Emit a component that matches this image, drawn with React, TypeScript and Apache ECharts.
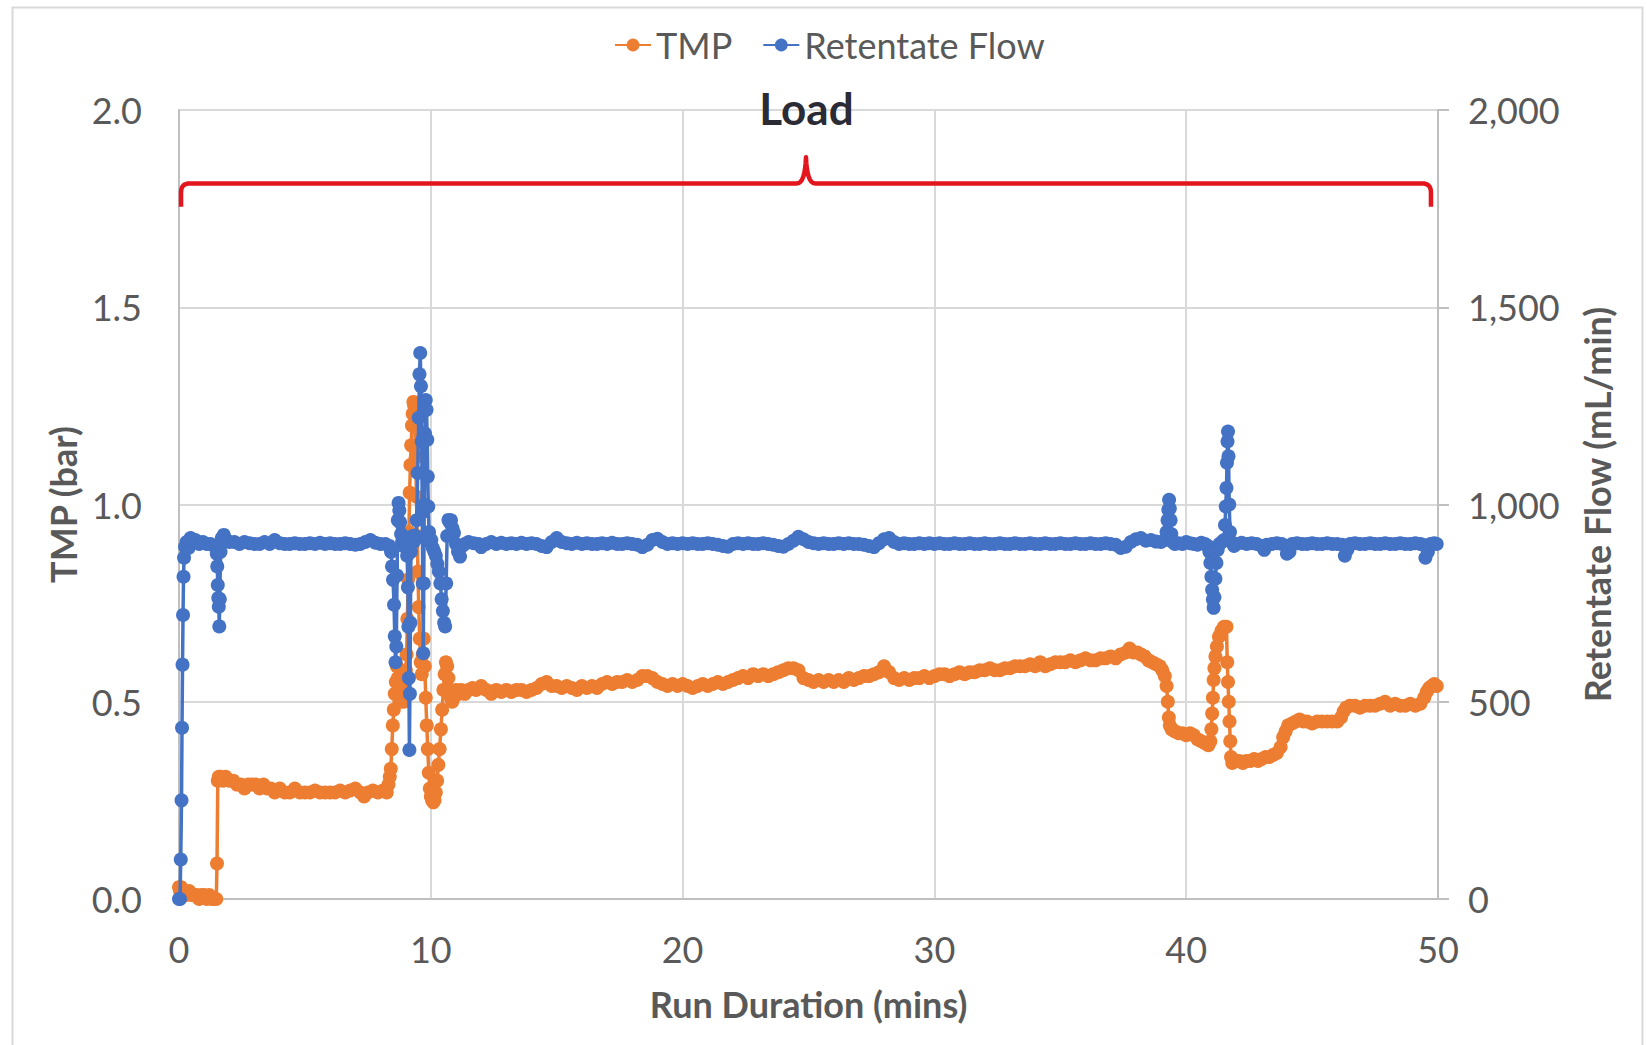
import React, { useEffect, useRef } from 'react';
import * as echarts from 'echarts';

// [minutes, TMP (bar)]
const tmpPoints: number[][] = [
  [0, 0.03], [0.04, 0.02], [0.08, 0.03], [0.12, 0.02], [0.2, 0.02], [0.3, 0.01], [0.4, 0.02], [0.5, 0.01], [0.6, 0.01], [0.7, 0.01],
  [0.8, 0.0], [0.9, 0.01], [1.0, 0.01], [1.1, 0.0], [1.2, 0.01], [1.3, 0.0], [1.4, 0.0], [1.48, 0.0],
  [1.51, 0.09], [1.54, 0.3], [1.58, 0.31], [1.65, 0.31], [1.75, 0.3], [1.85, 0.31], [2.0, 0.3], [2.15, 0.3], [2.3, 0.29], [2.45, 0.29],
  [2.6, 0.28], [2.75, 0.29], [2.9, 0.29], [3.05, 0.29], [3.2, 0.28], [3.35, 0.29], [3.5, 0.28], [3.65, 0.28], [3.8, 0.27], [4.0, 0.28],
  [4.2, 0.27], [4.4, 0.27], [4.6, 0.28], [4.8, 0.27], [5.0, 0.27], [5.2, 0.27], [5.4, 0.275], [5.6, 0.27], [5.8, 0.27], [6.0, 0.27],
  [6.2, 0.27], [6.4, 0.275], [6.6, 0.27], [6.8, 0.275], [7.0, 0.28], [7.2, 0.27], [7.35, 0.26], [7.5, 0.27], [7.7, 0.275], [7.9, 0.27],
  [8.1, 0.275], [8.25, 0.27],
  [8.32, 0.29], [8.37, 0.31], [8.41, 0.33], [8.45, 0.38], [8.49, 0.44], [8.53, 0.48], [8.57, 0.52], [8.61, 0.55], [8.65, 0.59],
  [8.69, 0.56], [8.73, 0.53], [8.77, 0.5], [8.81, 0.52], [8.85, 0.55], [8.89, 0.53], [8.93, 0.5], [8.97, 0.53], [9.01, 0.58],
  [9.04, 0.62], [9.07, 0.71], [9.1, 0.81], [9.13, 0.93], [9.16, 1.03], [9.19, 1.1], [9.22, 1.15], [9.25, 1.2], [9.28, 1.23],
  [9.31, 1.26], [9.34, 1.25], [9.37, 1.21], [9.4, 1.12], [9.43, 1.02], [9.46, 0.92], [9.49, 0.83], [9.52, 0.74], [9.56, 0.66],
  [9.6, 0.6], [9.64, 0.57], [9.68, 0.62], [9.72, 0.66], [9.76, 0.59], [9.8, 0.51], [9.84, 0.44], [9.88, 0.38], [9.92, 0.32],
  [9.96, 0.28], [10.0, 0.26], [10.05, 0.25], [10.1, 0.245], [10.15, 0.25], [10.2, 0.27], [10.25, 0.3], [10.3, 0.34], [10.35, 0.38],
  [10.4, 0.43], [10.45, 0.48], [10.5, 0.53], [10.55, 0.57], [10.6, 0.6], [10.65, 0.59], [10.7, 0.56], [10.75, 0.53], [10.8, 0.51],
  [10.85, 0.5], [10.9, 0.51], [10.95, 0.52], [11.0, 0.53], [11.1, 0.52], [11.2, 0.53], [11.35, 0.52], [11.5, 0.53], [11.65, 0.535],
  [11.8, 0.53], [12.0, 0.54], [12.2, 0.53], [12.4, 0.52], [12.6, 0.53], [12.8, 0.525], [13.0, 0.53], [13.2, 0.525], [13.4, 0.53],
  [13.6, 0.53], [13.8, 0.525], [14.0, 0.53], [14.2, 0.535], [14.4, 0.545], [14.6, 0.55], [14.8, 0.54], [15.0, 0.54], [15.2, 0.535],
  [15.4, 0.54], [15.6, 0.535], [15.8, 0.53], [16.0, 0.54], [16.2, 0.535], [16.4, 0.54], [16.6, 0.535], [16.8, 0.545], [17.0, 0.55],
  [17.2, 0.545], [17.4, 0.55], [17.6, 0.55], [17.8, 0.555], [18.0, 0.55], [18.2, 0.555], [18.4, 0.565], [18.6, 0.565], [18.8, 0.56],
  [19.0, 0.55], [19.2, 0.545], [19.4, 0.54], [19.6, 0.545], [19.8, 0.54], [20.0, 0.545], [20.2, 0.54], [20.4, 0.535], [20.6, 0.54],
  [20.8, 0.545], [21.0, 0.54], [21.2, 0.545], [21.4, 0.55], [21.6, 0.545], [21.8, 0.55], [22.0, 0.555], [22.2, 0.56], [22.4, 0.565],
  [22.6, 0.56], [22.8, 0.57], [23.0, 0.565], [23.2, 0.57], [23.4, 0.565], [23.6, 0.57], [23.8, 0.575], [24.0, 0.58], [24.2, 0.585],
  [24.4, 0.585], [24.6, 0.58], [24.8, 0.56], [25.0, 0.555], [25.2, 0.55], [25.4, 0.555], [25.6, 0.55], [25.8, 0.555], [26.0, 0.55],
  [26.2, 0.555], [26.4, 0.55], [26.6, 0.56], [26.8, 0.555], [27.0, 0.56], [27.2, 0.565], [27.4, 0.565], [27.6, 0.57], [27.8, 0.575],
  [28.0, 0.59], [28.2, 0.575], [28.4, 0.56], [28.6, 0.555], [28.8, 0.56], [29.0, 0.555], [29.2, 0.56], [29.4, 0.56], [29.6, 0.565],
  [29.8, 0.56], [30.0, 0.565], [30.2, 0.57], [30.4, 0.57], [30.6, 0.565], [30.8, 0.57], [31.0, 0.575], [31.2, 0.57], [31.4, 0.575],
  [31.6, 0.575], [31.8, 0.58], [32.0, 0.58], [32.2, 0.585], [32.4, 0.58], [32.6, 0.58], [32.8, 0.585], [33.0, 0.585], [33.2, 0.59],
  [33.4, 0.59], [33.6, 0.59], [33.8, 0.595], [34.0, 0.59], [34.2, 0.6], [34.4, 0.59], [34.6, 0.595], [34.8, 0.6], [35.0, 0.6],
  [35.2, 0.6], [35.4, 0.605], [35.6, 0.6], [35.8, 0.605], [36.0, 0.61], [36.2, 0.605], [36.4, 0.605], [36.6, 0.61], [36.8, 0.61],
  [37.0, 0.615], [37.2, 0.61], [37.4, 0.62], [37.6, 0.625], [37.75, 0.635], [37.9, 0.625], [38.05, 0.625], [38.2, 0.62],
  [38.35, 0.615], [38.5, 0.605], [38.65, 0.6], [38.8, 0.595], [38.95, 0.59], [39.05, 0.58], [39.15, 0.565], [39.22, 0.54],
  [39.27, 0.5], [39.31, 0.46], [39.35, 0.44], [39.42, 0.43], [39.55, 0.425], [39.7, 0.42], [39.85, 0.42], [40.0, 0.415],
  [40.15, 0.42], [40.3, 0.415], [40.45, 0.405], [40.6, 0.4], [40.75, 0.395], [40.88, 0.39], [40.96, 0.4], [41.0, 0.43],
  [41.03, 0.47], [41.06, 0.51], [41.09, 0.555], [41.12, 0.585], [41.16, 0.615], [41.22, 0.64], [41.3, 0.665], [41.4, 0.68],
  [41.5, 0.69], [41.6, 0.69], [41.63, 0.6], [41.66, 0.55], [41.69, 0.5], [41.72, 0.45], [41.75, 0.4], [41.78, 0.36], [41.83, 0.345],
  [41.95, 0.35], [42.1, 0.35], [42.25, 0.345], [42.4, 0.35], [42.55, 0.35], [42.7, 0.355], [42.85, 0.35], [43.0, 0.355],
  [43.15, 0.36], [43.3, 0.36], [43.45, 0.365], [43.6, 0.37], [43.75, 0.385], [43.85, 0.41], [43.95, 0.425], [44.05, 0.44],
  [44.2, 0.445], [44.35, 0.45], [44.5, 0.455], [44.65, 0.45], [44.8, 0.45], [45.0, 0.445], [45.2, 0.45], [45.4, 0.45], [45.6, 0.45],
  [45.8, 0.45], [46.0, 0.45], [46.15, 0.46], [46.25, 0.475], [46.35, 0.485], [46.5, 0.49], [46.7, 0.49], [46.9, 0.485], [47.1, 0.49],
  [47.3, 0.49], [47.5, 0.49], [47.7, 0.495], [47.9, 0.5], [48.1, 0.49], [48.3, 0.495], [48.5, 0.49], [48.7, 0.49], [48.9, 0.495],
  [49.1, 0.49], [49.3, 0.495], [49.45, 0.51], [49.55, 0.525], [49.65, 0.535], [49.75, 0.54], [49.85, 0.545], [49.95, 0.54],
];

// [minutes, Retentate Flow (mL/min)]
const flowPoints: number[][] = [
  [0, 0], [0.04, 0], [0.07, 100], [0.1, 250], [0.12, 434], [0.14, 594], [0.16, 720], [0.18, 817], [0.2, 865], [0.24, 893],
  [0.3, 905], [0.38, 890], [0.46, 915], [0.55, 905], [0.65, 910], [0.8, 900], [0.95, 905], [1.1, 900], [1.25, 900], [1.4, 895],
  [1.5, 875], [1.52, 843], [1.54, 796], [1.56, 763], [1.58, 741], [1.6, 691], [1.62, 760], [1.65, 880], [1.7, 915], [1.78, 923],
  [1.88, 910], [2.0, 905], [2.2, 905], [2.4, 900], [2.6, 905], [2.8, 902], [3.0, 900], [3.2, 900], [3.4, 905], [3.6, 900],
  [3.8, 910], [4.0, 902], [4.2, 900], [4.4, 900], [4.6, 902], [4.8, 900], [5.0, 900], [5.2, 902], [5.4, 900], [5.6, 903],
  [5.8, 900], [6.0, 902], [6.2, 900], [6.4, 900], [6.6, 902], [6.8, 900], [7.0, 898], [7.2, 900], [7.4, 905], [7.6, 910],
  [7.8, 903], [8.0, 900], [8.2, 900], [8.35, 895],
  [8.42, 880], [8.46, 843], [8.5, 809], [8.54, 746], [8.57, 666], [8.6, 600], [8.63, 640], [8.66, 820], [8.69, 960], [8.72, 1004],
  [8.75, 985], [8.78, 955], [8.82, 925], [8.86, 905], [8.9, 895], [8.94, 910], [8.98, 905], [9.02, 900], [9.06, 870], [9.09, 790],
  [9.11, 690], [9.13, 560], [9.15, 378], [9.17, 520], [9.19, 700], [9.21, 880], [9.24, 915], [9.28, 920], [9.32, 905], [9.36, 910],
  [9.4, 920], [9.44, 960], [9.48, 1080], [9.52, 1220], [9.55, 1330], [9.58, 1384], [9.61, 1300], [9.64, 1160], [9.66, 980],
  [9.68, 800], [9.7, 623], [9.72, 800], [9.74, 1000], [9.77, 1180], [9.8, 1265], [9.83, 1240], [9.86, 1164], [9.88, 1071],
  [9.9, 995], [9.93, 930], [9.97, 905], [10.02, 910], [10.08, 890], [10.14, 880], [10.2, 870], [10.26, 850], [10.32, 830],
  [10.38, 800], [10.43, 760], [10.48, 730], [10.53, 700], [10.57, 691], [10.61, 800], [10.65, 920], [10.7, 961], [10.75, 955],
  [10.8, 960], [10.86, 940], [10.92, 928], [11.0, 900], [11.08, 880], [11.16, 868], [11.25, 895], [11.35, 900], [11.5, 905],
  [11.7, 902], [11.9, 900], [12.0, 892], [12.2, 900], [12.4, 905], [12.6, 900], [12.8, 903], [13.0, 900], [13.2, 902], [13.4, 900],
  [13.6, 903], [13.8, 900], [14.0, 902], [14.2, 900], [14.4, 895], [14.6, 892], [14.8, 905], [15.0, 915], [15.2, 905], [15.4, 902],
  [15.6, 900], [15.8, 903], [16.0, 900], [16.2, 902], [16.4, 900], [16.6, 900], [16.8, 902], [17.0, 900], [17.2, 903], [17.4, 900],
  [17.6, 900], [17.8, 902], [18.0, 900], [18.2, 898], [18.4, 892], [18.6, 898], [18.8, 910], [19.0, 913], [19.2, 905], [19.4, 900],
  [19.6, 902], [19.8, 900], [20.0, 902], [20.2, 900], [20.4, 902], [20.6, 900], [20.8, 900], [21.0, 902], [21.2, 900], [21.4, 898],
  [21.6, 895], [21.8, 893], [22.0, 900], [22.2, 902], [22.4, 900], [22.6, 902], [22.8, 900], [23.0, 900], [23.2, 902], [23.4, 900],
  [23.6, 898], [23.8, 895], [24.0, 893], [24.2, 900], [24.4, 908], [24.6, 918], [24.8, 912], [25.0, 905], [25.2, 902], [25.4, 900],
  [25.6, 902], [25.8, 900], [26.0, 900], [26.2, 902], [26.4, 900], [26.6, 902], [26.8, 900], [27.0, 900], [27.2, 898], [27.4, 895],
  [27.6, 892], [27.8, 902], [28.0, 912], [28.2, 915], [28.4, 905], [28.6, 900], [28.8, 902], [29.0, 900], [29.2, 900], [29.4, 902],
  [29.6, 900], [29.8, 902], [30.0, 900], [30.2, 902], [30.4, 900], [30.6, 900], [30.8, 902], [31.0, 900], [31.2, 900], [31.4, 902],
  [31.6, 900], [31.8, 900], [32.0, 902], [32.2, 900], [32.4, 900], [32.6, 902], [32.8, 900], [33.0, 900], [33.2, 902], [33.4, 900],
  [33.6, 900], [33.8, 902], [34.0, 900], [34.2, 900], [34.4, 902], [34.6, 900], [34.8, 900], [35.0, 902], [35.2, 900], [35.4, 900],
  [35.6, 902], [35.8, 900], [36.0, 900], [36.2, 902], [36.4, 900], [36.6, 900], [36.8, 902], [37.0, 900], [37.2, 898], [37.4, 890],
  [37.6, 893], [37.8, 905], [38.0, 912], [38.2, 915], [38.4, 908], [38.6, 910], [38.8, 906], [39.0, 905], [39.15, 910], [39.22, 930],
  [39.26, 960], [39.29, 987], [39.32, 1012], [39.35, 990], [39.38, 960], [39.41, 925], [39.46, 905], [39.55, 900], [39.7, 902],
  [39.85, 900], [40.0, 905], [40.15, 902], [40.3, 900], [40.45, 898], [40.6, 903], [40.75, 900], [40.85, 895], [40.92, 880],
  [40.96, 852], [41.0, 817], [41.03, 784], [41.06, 759], [41.09, 738], [41.12, 765], [41.16, 812], [41.2, 852], [41.25, 885],
  [41.32, 900], [41.42, 905], [41.5, 910], [41.54, 948], [41.57, 995], [41.6, 1042], [41.62, 1106], [41.64, 1160], [41.66, 1185],
  [41.68, 1122], [41.71, 1000], [41.74, 930], [41.8, 905], [41.9, 895], [42.0, 900], [42.2, 903], [42.4, 900], [42.6, 902],
  [42.8, 900], [43.0, 895], [43.1, 885], [43.2, 898], [43.4, 900], [43.6, 902], [43.8, 900], [44.0, 875], [44.1, 880], [44.2, 900],
  [44.4, 902], [44.6, 900], [44.8, 900], [45.0, 902], [45.2, 900], [45.4, 900], [45.6, 902], [45.8, 900], [46.0, 900], [46.2, 898],
  [46.3, 870], [46.4, 885], [46.5, 900], [46.7, 902], [46.9, 900], [47.1, 900], [47.3, 902], [47.5, 900], [47.7, 900], [47.9, 902],
  [48.1, 900], [48.3, 900], [48.5, 902], [48.7, 900], [48.9, 900], [49.1, 902], [49.3, 900], [49.4, 898], [49.5, 865], [49.6, 880],
  [49.7, 900], [49.85, 902], [49.95, 900],
];

const seriesNames = ['TMP', 'Retentate Flow'];
const seriesColors = ['#ED7D31', '#4472C4'];
const xAxisTitle = 'Run Duration (mins)';
const leftAxisTitle = 'TMP (bar)';
const rightAxisTitle = 'Retentate Flow (mL/min)';
const annotationText = 'Load';
// brace in data coordinates: x start / tip / end, y bottom / bar / tip
const braceX = [0.08, 24.9, 49.72];
const braceY = [1.755, 1.814, 1.88];
const annotationAt = [25, 2.0];

const FONT = 'Lato, "Noto Sans", sans-serif';

export default function App() {
  const ref = useRef<HTMLDivElement>(null);

  useEffect(() => {
    if (!ref.current) return;
    const chart = echarts.init(ref.current, undefined, { renderer: 'svg' });
    const axisTextColor = '#595959';
    const option: any = {
      animation: false,
      backgroundColor: '#ffffff',
      textStyle: { fontFamily: FONT },
      legend: {
        data: seriesNames,
        left: 609,
        top: 22,
        itemWidth: 36,
        itemHeight: 16,
        itemGap: 30,
        textStyle: { color: axisTextColor, fontSize: 36, fontFamily: FONT },
      },
      grid: { left: 179, right: 209, top: 110, bottom: 146, containLabel: false },
      xAxis: {
        type: 'value',
        min: 0,
        max: 50,
        interval: 10,
        axisLine: { show: true, onZero: false, lineStyle: { color: '#bfbfbf', width: 2 } },
        axisTick: { show: false },
        splitLine: { show: true, lineStyle: { color: '#d9d9d9', width: 2 } },
        axisLabel: { color: axisTextColor, fontSize: 36, fontFamily: FONT, margin: 32 },
        name: xAxisTitle,
        nameLocation: 'middle',
        nameGap: 87,
        nameTextStyle: { color: axisTextColor, fontSize: 36, fontWeight: 'bold', fontFamily: FONT },
      },
      yAxis: [
        {
          type: 'value',
          position: 'left',
          min: 0,
          max: 2,
          interval: 0.5,
          axisLine: { show: true, lineStyle: { color: '#bfbfbf', width: 2 } },
          axisTick: { show: false },
          splitLine: { show: true, lineStyle: { color: '#d9d9d9', width: 2 } },
          axisLabel: {
            color: axisTextColor, fontSize: 36, fontFamily: FONT, margin: 37,
            formatter: (v: number) => v.toFixed(1),
          },
          name: leftAxisTitle,
          nameLocation: 'middle',
          nameGap: 96,
          nameTextStyle: { color: axisTextColor, fontSize: 36, fontWeight: 'bold', fontFamily: FONT },
        },
        {
          type: 'value',
          position: 'right',
          min: 0,
          max: 2000,
          interval: 500,
          axisLine: { show: true, lineStyle: { color: '#bfbfbf', width: 2 } },
          axisTick: { show: true, inside: false, length: 11, lineStyle: { color: '#bfbfbf', width: 2 } },
          splitLine: { show: false },
          axisLabel: {
            color: axisTextColor, fontSize: 36, fontFamily: FONT, margin: 30,
            formatter: (v: number) => String(v).replace(/\B(?=(\d{3})+(?!\d))/g, ','),
          },
          name: rightAxisTitle,
          nameLocation: 'middle',
          nameGap: 141,
          nameTextStyle: { color: axisTextColor, fontSize: 36, fontWeight: 'bold', fontFamily: FONT },
        },
      ],
      series: [
        {
          name: seriesNames[0],
          type: 'line',
          yAxisIndex: 0,
          data: tmpPoints,
          symbol: 'circle',
          symbolSize: 14,
          showSymbol: true,
          showAllSymbol: true,
          lineStyle: { color: seriesColors[0], width: 3.5 },
          itemStyle: { color: seriesColors[0], borderColor: seriesColors[0], borderWidth: 0 },
          emphasis: { disabled: true },
          z: 2,
        },
        {
          name: seriesNames[1],
          type: 'line',
          yAxisIndex: 1,
          data: flowPoints,
          symbol: 'circle',
          symbolSize: 14,
          showSymbol: true,
          showAllSymbol: true,
          lineStyle: { color: seriesColors[1], width: 3.5 },
          itemStyle: { color: seriesColors[1], borderColor: seriesColors[1], borderWidth: 0 },
          emphasis: { disabled: true },
          z: 3,
        },
      ],
    };
    chart.setOption(option);

    const px = (x: number, y: number) =>
      chart.convertToPixel({ xAxisIndex: 0, yAxisIndex: 0 }, [x, y]) as number[];
    const L = px(braceX[0], braceY[0]);
    const R = px(braceX[2], braceY[0]);
    const bar = px(braceX[1], braceY[1]);
    const tip = px(braceX[1], braceY[2]);
    const yb = L[1];
    const yh = bar[1];
    const r = 9;
    const quad = (a: number[], c: number[], b: number[]) => {
      const out: number[][] = [];
      for (let i = 0; i <= 8; i++) {
        const t = i / 8;
        out.push([
          (1 - t) * (1 - t) * a[0] + 2 * (1 - t) * t * c[0] + t * t * b[0],
          (1 - t) * (1 - t) * a[1] + 2 * (1 - t) * t * c[1] + t * t * b[1],
        ]);
      }
      return out;
    };
    const pts: number[][] = [
      [L[0], yb],
      ...quad([L[0], yh + r], [L[0], yh], [L[0] + r, yh]),
      ...quad([bar[0] - 9, yh], [bar[0] - 1, yh], [bar[0], tip[1]]),
      ...quad([bar[0], tip[1]], [bar[0] + 1, yh], [bar[0] + 9, yh]),
      ...quad([R[0] - r, yh], [R[0], yh], [R[0], yh + r]),
      [R[0], yb],
    ];
    const ann = px(annotationAt[0], annotationAt[1]);

    chart.setOption({
      graphic: [
        {
          type: 'rect',
          left: 10,
          top: 5,
          shape: { x: 0, y: 0, width: 1630, height: 1050 },
          style: { fill: 'none', stroke: '#d9d9d9', lineWidth: 2 },
          silent: true,
          z: -1,
        },
        {
          type: 'polyline',
          shape: { points: pts },
          style: { fill: 'none', stroke: '#E3161E', lineWidth: 4.5, lineJoin: 'round', lineCap: 'butt' },
          silent: true,
          z: 10,
        },
        {
          type: 'text',
          x: ann[0] - 2,
          y: ann[1] - 2,
          style: {
            text: annotationText,
            fill: '#2b2b36',
            fontSize: 44,
            fontWeight: 'bold',
            fontFamily: FONT,
            align: 'center',
            verticalAlign: 'middle',
          },
          silent: true,
          z: 10,
        },
      ],
    });

    return () => chart.dispose();
  }, []);

  return (
    <div
      ref={ref}
      style={{ position: 'absolute', left: 0, top: 0, width: 1647, height: 1045 }}
    />
  );
}
